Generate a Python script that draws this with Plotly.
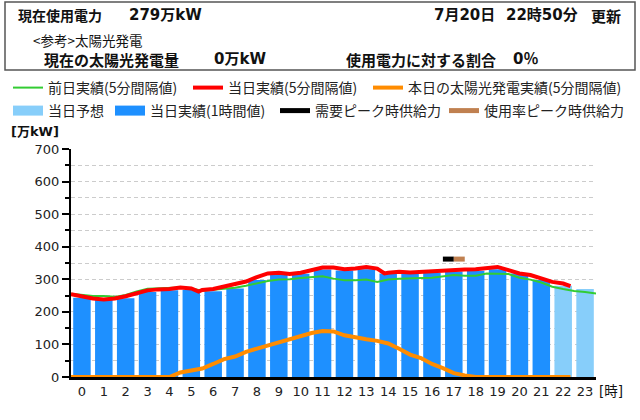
import plotly.graph_objects as go

# ---------------- data ----------------
hours = list(range(24))
hour_labels = [str(h) for h in hours]

actual_hours = list(range(22))
actual_hourly = [243, 237, 242, 261, 266, 268, 263, 272, 298, 318, 317, 330,
                 327, 331, 318, 320, 320, 324, 326, 331, 318, 298]
forecast_hours = [22, 23]
forecast_hourly = [280, 270]

times_today = ["00:00", "00:30", "01:00", "01:30", "02:00", "02:30", "03:00", "03:30",
               "04:00", "04:30", "05:00", "05:30", "05:50", "06:00", "06:30", "07:00", "07:30",
               "08:00", "08:30", "09:00", "09:30", "10:00", "10:30", "11:00", "11:30",
               "12:00", "12:30", "13:00", "13:30", "14:00", "14:20", "14:30", "15:00", "15:30",
               "16:00", "16:30", "17:00", "17:30", "18:00", "18:30", "19:00", "19:30",
               "20:00", "20:30", "21:00", "21:30", "22:00", "22:30", "22:50"]
today_usage = [254, 246, 241, 238, 241, 248, 258, 266,
               269, 270, 275, 272, 262, 267, 270, 278, 283,
               293, 307, 318, 320, 316, 320, 328, 336,
               336, 331, 333, 338, 333, 318, 320, 323, 321,
               323, 326, 328, 331, 330, 331, 336, 338,
               328, 318, 313, 302, 292, 287, 279]
today_solar = [0, 0, 0, 0, 0, 0, 0, 0,
               0, 0, 14, 21, 24, 26, 40, 55, 63,
               77, 87, 97, 108, 118, 125, 135, 141,
               140, 128, 121, 116, 111, 106, 103, 87, 69,
               58, 40, 27, 12, 5, 0, 0, 0,
               0, 0, 0, 0, 0, 0, 0]

times_prev = ["00:00", "00:30", "01:00", "01:30", "02:00", "02:30", "03:00", "03:30",
              "04:00", "04:30", "05:00", "05:30", "06:00", "06:30", "07:00", "07:30",
              "08:00", "08:30", "09:00", "09:30", "10:00", "10:30", "11:00", "11:30",
              "12:00", "12:30", "13:00", "13:30", "14:00", "14:30", "15:00", "15:30",
              "16:00", "16:30", "17:00", "17:30", "18:00", "18:30", "19:00", "19:30",
              "20:00", "20:30", "21:00", "21:30", "22:00", "22:30", "23:00", "23:30",
              "24:00"]
prev_usage = [256, 253, 249, 249, 246, 252, 263, 271,
              272, 275, 275, 272, 265, 268, 270, 274,
              280, 287, 295, 299, 300, 304, 307, 309,
              302, 297, 297, 299, 292, 299, 302, 302,
              304, 305, 308, 313, 311, 311, 318, 318,
              316, 305, 299, 290, 277, 270, 264, 261,
              256]

peak_hour = 17
demand_peak_supply = 362
usage_peak_supply = 362

current_usage = 279
update_date = "7月20日"
update_time = "22時50分"
solar_now = 0
solar_ratio = 0

# ---------------- geometry / style ----------------
W, H = 640, 420
ML, MR, MT, MB = 71, 44, 149, 43
PW, PH = W - ML - MR, H - MT - MB

CJK = "Noto Sans CJK JP"
NUM = "DejaVu Sans"
MIX = "DejaVu Sans, Noto Sans CJK JP"


def px2x(px):
    return (px - ML) / PW


def py2y(py):
    return (H - MB - py) / PH


def tpos(s):
    h, m = s.split(":")
    return int(h) + int(m) / 60 - 0.5


fig = go.Figure()

fig.add_trace(go.Bar(x=actual_hours, y=actual_hourly, width=0.8,
                     marker=dict(color="#1e90ff", line=dict(width=0)),
                     showlegend=False, hoverinfo="skip"))
fig.add_trace(go.Bar(x=forecast_hours, y=forecast_hourly, width=0.8,
                     marker=dict(color="#87cefa", line=dict(width=0)),
                     showlegend=False, hoverinfo="skip"))

fig.add_trace(go.Scatter(x=[tpos(t) for t in times_prev], y=prev_usage, mode="lines",
                         line=dict(color="#33cc33", width=2),
                         name="前日実績(5分間隔値)", legend="legend"))
fig.add_trace(go.Scatter(x=[tpos(t) for t in times_today], y=today_usage, mode="lines",
                         line=dict(color="#ff0000", width=4),
                         name="当日実績(5分間隔値)", legend="legend2"))
fig.add_trace(go.Scatter(x=[tpos(t) for t in times_today], y=today_solar, mode="lines",
                         line=dict(color="#ff8c00", width=4),
                         name="本日の太陽光発電実績(5分間隔値)", legend="legend3"))
# legend-only entries for the bar series
fig.add_trace(go.Scatter(x=[None], y=[None], mode="lines",
                         line=dict(color="#87cefa", width=11),
                         name="当日予想", legend="legend4"))
fig.add_trace(go.Scatter(x=[None], y=[None], mode="lines",
                         line=dict(color="#1e90ff", width=11),
                         name="当日実績(1時間値)", legend="legend5"))
fig.add_trace(go.Scatter(x=[peak_hour - 0.5, peak_hour], y=[demand_peak_supply] * 2,
                         mode="lines", line=dict(color="#000000", width=5),
                         name="需要ピーク時供給力", legend="legend6"))
fig.add_trace(go.Scatter(x=[peak_hour, peak_hour + 0.5], y=[usage_peak_supply] * 2,
                         mode="lines", line=dict(color="#c08050", width=5),
                         name="使用率ピーク時供給力", legend="legend7"))

legend_font = dict(family=CJK, size=14, color="#222222")
legend_pos = {"legend": (13, 88), "legend2": (193, 88), "legend3": (373, 88),
              "legend4": (13, 111), "legend5": (115, 111), "legend6": (280, 111),
              "legend7": (449, 111)}
legend_layout = {}
for key, (sx, sy) in legend_pos.items():
    legend_layout[key] = dict(xref="container", yref="container",
                              x=(sx - 5) / W, y=1 - sy / H,
                              xanchor="left", yanchor="middle",
                              orientation="h", font=legend_font,
                              bgcolor="rgba(0,0,0,0)", borderwidth=0,
                              itemclick=False, itemdoubleclick=False)

annotations = []


def ann(text, px, py, size, bold=True, family=MIX, anchor="left"):
    annotations.append(dict(text=f"<b>{text}</b>" if bold else text,
                            x=px2x(px), y=py2y(py), xref="paper", yref="paper",
                            xanchor=anchor, yanchor="middle", showarrow=False,
                            font=dict(family=family, size=size, color="#111111")))


ann("現在使用電力", 16, 15, 14, family=CJK)
ann(f"{current_usage}万kW", 127, 15, 15)
ann(update_date, 432, 15, 15)
ann(update_time, 504, 15, 15)
ann("更新", 589, 15, 15, family=CJK)
ann("&lt;参考&gt;太陽光発電", 31, 40, 13.5, bold=False, family=CJK)
ann("現在の太陽光発電量", 42, 59, 15, family=CJK)
ann(f"{solar_now}万kW", 212, 59, 15)
ann("使用電力に対する割合", 344, 59, 15, family=CJK)
ann(f"{solar_ratio}％", 511, 59, 15)
ann("[万kW]", 35, 131, 13, anchor="center")
ann("[時]", 597, 391, 13.5, bold=False)

fig.update_layout(
    width=W, height=H,
    margin=dict(l=ML, r=MR, t=MT, b=MB),
    paper_bgcolor="white", plot_bgcolor="white",
    barmode="overlay",
    showlegend=True,
    font=dict(family=CJK, size=13, color="#222222"),
    annotations=annotations,
    shapes=[dict(type="rect", xref="paper", yref="paper",
                 x0=px2x(5), x1=px2x(635), y0=py2y(70), y1=py2y(2),
                 line=dict(color="#555555", width=1.5), fillcolor="rgba(0,0,0,0)")],
    **legend_layout,
)

fig.update_xaxes(range=[-0.5, 23.5], tickmode="array", tickvals=hours, ticktext=hour_labels,
                 showline=True, linecolor="black", linewidth=3, layer="below traces",
                 ticks="", showgrid=False, zeroline=False,
                 tickfont=dict(family=NUM, size=13, color="#222222"), fixedrange=True)
fig.update_yaxes(range=[0, 700], tickmode="linear", tick0=0, dtick=100,
                 showline=True, linecolor="black", linewidth=2,
                 ticks="outside", ticklen=7, tickwidth=2, tickcolor="black",
                 showgrid=True, gridcolor="#cccccc", griddash="4px,3px", gridwidth=1,
                 minor=dict(dtick=50, ticks="outside", ticklen=4, tickwidth=2,
                            tickcolor="black", showgrid=True, gridcolor="#cccccc",
                            griddash="4px,3px", gridwidth=1),
                 zeroline=False,
                 tickfont=dict(family=NUM, size=13, color="#222222"), fixedrange=True)

fig.write_html("out.html")
